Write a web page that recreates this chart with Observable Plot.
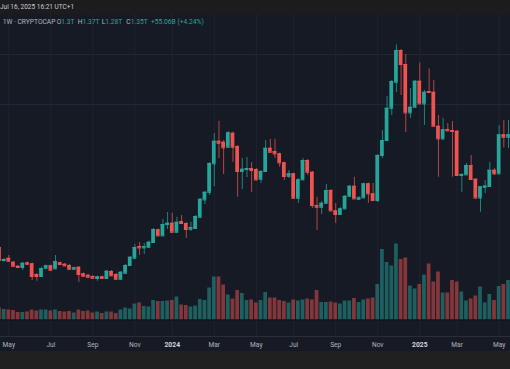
<!DOCTYPE html>
<html><head><meta charset="utf-8">
<script src="https://cdn.jsdelivr.net/npm/d3@7"></script>
<script src="https://cdn.jsdelivr.net/npm/@observablehq/plot@0.6"></script>
<style>
html,body{margin:0;padding:0;background:#1f1f1f;}
#root{position:relative;width:510px;height:369px;overflow:hidden;background:#202020;font-family:Roboto,"Noto Sans",sans-serif;}
#hdr{position:absolute;left:0;top:0;width:510px;height:14px;background:#1c1c1e;color:#c9cbd1;font-size:6.5px;line-height:14px;white-space:nowrap;}
#pane{position:absolute;left:0;top:14px;width:510px;height:337px;background:#161a25;overflow:hidden;}
#pane svg{position:absolute;left:0;top:0;}
#legend{position:absolute;left:0;top:17px;width:510px;height:10px;font-size:6.7px;line-height:10px;color:#b2b5be;white-space:nowrap;}
#legend span.item{position:absolute;top:0;}
.v{color:#26a69a;}
</style></head><body>
<div id="root">
  <div id="hdr"><span id="stamp"></span></div>
  <div id="pane"></div>
  <div id="legend"></div>
</div>
<script>
// ---- data (weekly, values in billions USD) ----
const open = [
  585,520,531,511,491,485,508,503,450,440,
  481,493,478,508,501,495,476,486,453,446,
  440,430,438,430,465,450,426,456,495,531,
  590,583,586,610,673,643,700,706,661,715,
  705,676,680,736,823,861,1003,1116,1111,1086,
  1156,1090,965,975,980,975,926,965,1081,1065,
  1053,1008,941,953,831,923,1020,961,795,786,
  806,870,768,750,778,841,891,826,833,903,
  853,820,1045,1120,1281,1411,1570,1500,1258,1286,
  1416,1303,1365,1361,1191,1128,1175,1170,1166,945,
  948,995,926,832,886,890,971,953,1148,1136];
const close = [
  520,525,516,491,485,506,501,440,440,480,
  493,471,515,500,493,476,483,450,441,436,
  431,438,430,466,443,426,461,495,536,585,
  583,590,611,675,643,700,706,661,711,705,
  675,685,740,826,861,1005,1116,1106,1083,1158,
  1086,965,976,980,970,923,965,1081,1061,1053,
  1008,940,953,831,923,1020,961,795,786,806,
  870,768,750,778,841,891,828,833,903,853,
  820,1045,1120,1281,1415,1570,1500,1258,1286,1416,
  1303,1361,1360,1191,1128,1173,1168,1165,945,950,
  995,925,832,888,892,971,953,1148,1136,1148];
const high = [
  590,530,545,515,495,510,512,507,455,485,
  497,497,545,512,505,500,487,490,457,450,
  445,442,442,470,470,455,465,500,540,600,
  610,605,617,680,677,725,760,756,736,745,
  710,711,745,830,865,1010,1155,1216,1120,1165,
  1162,1095,1030,1035,1010,980,970,1120,1126,1126,
  1057,1012,970,957,930,1030,1025,965,836,815,
  900,875,805,785,845,895,936,840,907,907,
  905,1050,1170,1340,1420,1598,1575,1550,1380,1420,
  1508,1370,1478,1420,1245,1231,1205,1215,1170,955,
  1005,1045,930,890,920,1011,980,1195,1220,1220];
const low = [
  515,512,512,487,480,470,497,420,416,435,
  477,467,475,495,490,472,472,411,437,432,
  427,416,425,425,440,422,422,452,490,527,
  545,550,582,605,640,640,675,657,657,700,
  630,666,675,732,800,845,890,1030,950,1080,
  1011,836,875,935,861,917,905,960,1057,1030,
  986,920,930,827,805,920,945,780,670,750,
  802,765,705,745,775,835,825,820,830,806,
  815,810,1030,1115,1245,1360,1345,1160,1231,1282,
  1300,1195,1355,1187,936,1120,1165,936,940,861,
  945,920,827,761,855,887,945,950,1083,1080];
const volume = [
  24,21,20,19,15,15,16,20,18,20,
  20,18,20,17,16,17,14,20,17,18,
  14,16,13,16,16,13,20,24,22,32,
  34,27,26,39,37,37,38,39,46,30,
  29,26,28,41,39,64,86,86,70,50,
  42,59,53,39,40,34,39,55,44,44,
  39,37,34,40,38,40,42,40,59,35,
  35,36,34,32,38,38,43,35,40,42,
  44,71,141,115,108,152,121,124,68,62,
  71,90,112,76,96,54,54,79,76,56,
  38,42,48,66,34,51,39,67,71,79];

const monthTicks = ["2023-05-01","2023-07-03","2023-09-04","2023-11-06","2024-03-04","2024-05-06","2024-07-01","2024-09-02","2024-11-04","2025-03-03","2025-05-05"];
const monthLabels = ["May","Jul","Sep","Nov","Mar","May","Jul","Sep","Nov","Mar","May"];
const yearTicks = ["2024-01-01","2025-01-06"];
const yearLabels = ["2024","2025"];
const gridLevels = [1550, 1300];

const stampText = "Jul 16, 2025 16:21 UTC+1";
const symbolText = "1W \u00b7 CRYPTOCAP";
const ohlcLabels = ["O","H","L","C"];
const ohlcValues = ["1.3T","1.37T","1.28T","1.35T"];
const changeText = "+55.06B (+4.24%)";

// ---- build ----
const UP = "#26a69a", DOWN = "#ef5350";
const fmt = d3.utcFormat("%Y-%m-%d");
const weeks = d3.utcMonday.range(new Date(Date.UTC(2023,3,17)), new Date(Date.UTC(2025,4,20))).map(fmt);
const candles = weeks.map((w,i) => ({week:w, open:open[i], high:high[i], low:low[i], close:close[i], volume:volume[i], color: close[i] >= open[i] ? UP : DOWN}));

const labelOf = new Map([...monthTicks.map((t,i)=>[t,monthLabels[i]]), ...yearTicks.map((t,i)=>[t,yearLabels[i]])]);
const xScale = {type:"band", domain:weeks, range:[-3.375, 510.345], paddingInner:0.2, paddingOuter:0.1, align:0.5, label:null};

const volumeChart = Plot.plot({
  width:510, height:337, marginTop:0, marginLeft:0, marginRight:0, marginBottom:15,
  style:{background:"transparent", fontFamily:"Roboto, 'Noto Sans', sans-serif"},
  x:{...xScale},
  y:{domain:[0,160], range:[305.5,225.5], axis:null},
  color:{type:"identity"},
  marks:[
    Plot.ruleX([...monthTicks, ...yearTicks], {stroke:"#1f2331", strokeWidth:1}),
    Plot.barY(candles, {x:"week", y:"volume", fill:"color", fillOpacity:0.5}),
    Plot.ruleY([0], {stroke:"#0f1219"}),
    Plot.frame({anchor:"bottom", stroke:"#2a2e39"}),
    Plot.axisX(monthTicks, {tickSize:0, tickPadding:5.6, fontSize:6.6, fill:"#b2b5be", label:null, tickFormat:d=>labelOf.get(d)}),
    Plot.axisX(yearTicks, {tickSize:0, tickPadding:5.6, fontSize:6.8, fontWeight:"bold", fill:"#d1d4dc", label:null, tickFormat:d=>labelOf.get(d)})
  ]
});

const priceChart = Plot.plot({
  width:510, height:337, margin:0,
  style:{background:"transparent"},
  x:{...xScale, axis:null},
  y:{domain:[0,1600], range:[350,30], axis:null},
  color:{type:"identity"},
  marks:[
    Plot.ruleY(gridLevels, {stroke:"#222736", strokeWidth:1}),
    Plot.ruleX(candles, {x:"week", y1:"low", y2:"high", stroke:"color", strokeOpacity:0.75, strokeWidth:1}),
    Plot.barY(candles, {x:"week", y1:"open", y2:"close", fill:"color"}),
    Plot.tickY(candles, {x:"week", y:"open", stroke:"color", strokeWidth:1}),
    Plot.tickY(candles, {x:"week", y:"close", stroke:"color", strokeWidth:1})
  ]
});

const pane = document.getElementById("pane");
pane.appendChild(volumeChart);
pane.appendChild(priceChart);

document.getElementById("stamp").textContent = stampText;
const legend = document.getElementById("legend");
const lefts = [56.7, 77.7, 101.7, 126.3];
const sym = document.createElement("span"); sym.className="item"; sym.style.left="2.7px"; sym.textContent=symbolText; legend.appendChild(sym);
ohlcLabels.forEach((l,i)=>{const s=document.createElement("span");s.className="item";s.style.left=lefts[i]+"px";s.textContent=l;const v=document.createElement("span");v.className="v";v.textContent=ohlcValues[i];s.appendChild(v);legend.appendChild(s);});
const ch = document.createElement("span"); ch.className="item v"; ch.style.left="151px"; ch.textContent=changeText; legend.appendChild(ch);
</script>
</body></html>
